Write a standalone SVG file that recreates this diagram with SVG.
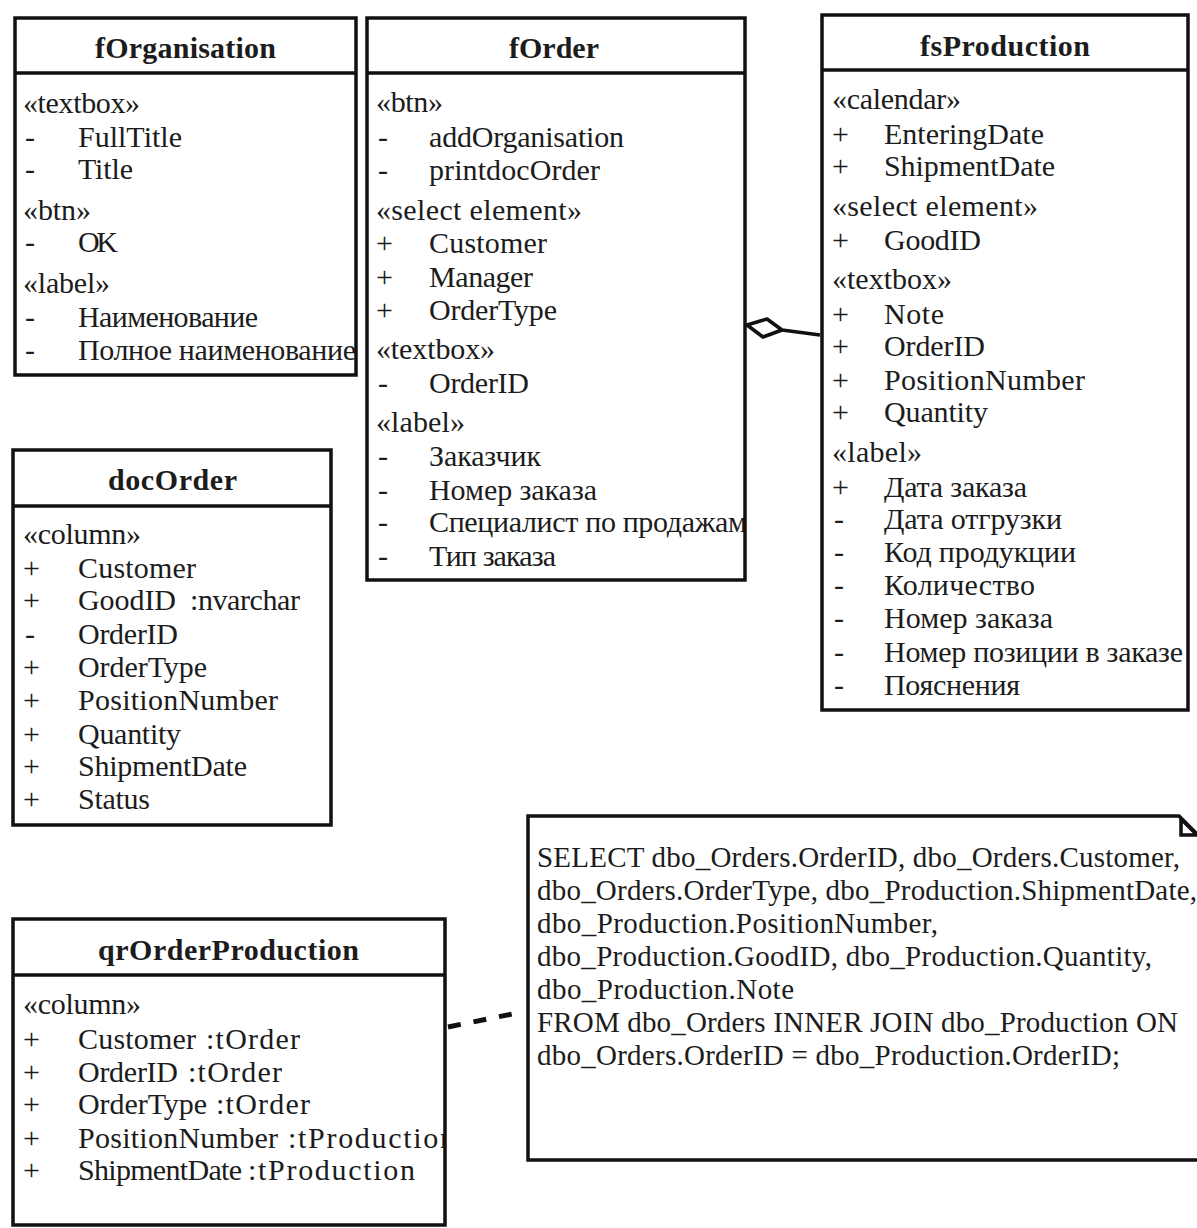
<svg xmlns="http://www.w3.org/2000/svg" width="1197" height="1228" viewBox="0 0 1197 1228">
  <style>
    text { font-family: "Liberation Serif", "Times New Roman", "DejaVu Serif", serif; font-size: 30px; fill: #1c1c1c; }
    .title { font-weight: bold; text-anchor: middle; }
    .note { font-size: 29px; }
    .box { fill: #ffffff; stroke: none; }
    .frame { fill: none; stroke: #111111; stroke-width: 3.5; }
    .sep { stroke: #111111; stroke-width: 3.5; }
    .link { fill: none; stroke: #111111; stroke-width: 3.5; stroke-linejoin: round; }
    .dash { fill: none; stroke: #111111; stroke-width: 5; stroke-dasharray: 13 13; }
  </style>
  <defs>
    <clipPath id="clipOrg"><rect x="15" y="18" width="341" height="357"/></clipPath>
    <clipPath id="clipOrder"><rect x="367" y="18" width="378" height="562"/></clipPath>
    <clipPath id="clipProd"><rect x="822" y="15" width="366" height="695"/></clipPath>
    <clipPath id="clipQr"><rect x="13" y="919" width="432" height="306"/></clipPath>
  </defs>

  <rect width="1197" height="1228" fill="#ffffff"/>

  <!-- fOrganisation -->
  <g id="fOrganisation">
    <rect class="box" x="15" y="18" width="341" height="357"/>
    <text class="title" x="185.5" y="58" textLength="181">fOrganisation</text>
    <g clip-path="url(#clipOrg)">
      <text x="23" y="113" textLength="117">«textbox»</text>
      <text x="25" y="147">-</text><text x="78" y="147" textLength="104">FullTitle</text>
      <text x="25" y="179">-</text><text x="78" y="179" textLength="55">Title</text>
      <text x="23" y="220" textLength="68">«btn»</text>
      <text x="25" y="252">-</text><text x="78" y="252" textLength="40">OK</text>
      <text x="23" y="293" textLength="87">«label»</text>
      <text x="25" y="327">-</text><text x="78" y="327" textLength="180">Наименование</text>
      <text x="25" y="360">-</text><text x="78" y="360" textLength="278">Полное наименование</text>
    </g>
    <rect class="frame" x="15" y="18" width="341" height="357"/>
    <line class="sep" x1="15" y1="73" x2="356" y2="73"/>
  </g>

  <!-- fOrder -->
  <g id="fOrder">
    <rect class="box" x="367" y="18" width="378" height="562"/>
    <text class="title" x="554" y="58" textLength="90">fOrder</text>
    <g clip-path="url(#clipOrder)">
      <text x="376" y="112" textLength="67">«btn»</text>
      <text x="378" y="147">-</text><text x="429" y="147" textLength="195">addOrganisation</text>
      <text x="378" y="180">-</text><text x="429" y="180" textLength="171">printdocOrder</text>
      <text x="376" y="220" textLength="206">«select element»</text>
      <text x="376" y="253">+</text><text x="429" y="253" textLength="118">Customer</text>
      <text x="376" y="287">+</text><text x="429" y="287" textLength="104">Manager</text>
      <text x="376" y="320">+</text><text x="429" y="320" textLength="128">OrderType</text>
      <text x="376" y="359" textLength="119">«textbox»</text>
      <text x="378" y="393">-</text><text x="429" y="393" textLength="100">OrderID</text>
      <text x="376" y="432" textLength="89">«label»</text>
      <text x="378" y="466">-</text><text x="429" y="466" textLength="112">Заказчик</text>
      <text x="378" y="500">-</text><text x="429" y="500" textLength="168">Номер заказа</text>
      <text x="378" y="532">-</text><text x="429" y="532" textLength="318">Специалист по продажам</text>
      <text x="378" y="566">-</text><text x="429" y="566" textLength="127">Тип заказа</text>
    </g>
    <rect class="frame" x="367" y="18" width="378" height="562"/>
    <line class="sep" x1="367" y1="73" x2="745" y2="73"/>
  </g>

  <!-- fsProduction -->
  <g id="fsProduction">
    <rect class="box" x="822" y="15" width="366" height="695"/>
    <text class="title" x="1005" y="56" textLength="170">fsProduction</text>
    <g clip-path="url(#clipProd)">
      <text x="832" y="109" textLength="129">«calendar»</text>
      <text x="832" y="144">+</text><text x="884" y="144" textLength="160">EnteringDate</text>
      <text x="832" y="176">+</text><text x="884" y="176" textLength="171">ShipmentDate</text>
      <text x="832" y="216" textLength="206">«select element»</text>
      <text x="832" y="250">+</text><text x="884" y="250" textLength="97">GoodID</text>
      <text x="832" y="289" textLength="120">«textbox»</text>
      <text x="832" y="324">+</text><text x="884" y="324" textLength="60">Note</text>
      <text x="832" y="356">+</text><text x="884" y="356" textLength="101">OrderID</text>
      <text x="832" y="390">+</text><text x="884" y="390" textLength="201">PositionNumber</text>
      <text x="832" y="422">+</text><text x="884" y="422" textLength="104">Quantity</text>
      <text x="832" y="462" textLength="90">«label»</text>
      <text x="832" y="497">+</text><text x="884" y="497" textLength="143">Дата заказа</text>
      <text x="834" y="529">-</text><text x="884" y="529" textLength="178">Дата отгрузки</text>
      <text x="834" y="562">-</text><text x="884" y="562" textLength="192">Код продукции</text>
      <text x="834" y="595">-</text><text x="884" y="595" textLength="151">Количество</text>
      <text x="834" y="628">-</text><text x="884" y="628" textLength="169">Номер заказа</text>
      <text x="834" y="662">-</text><text x="884" y="662" textLength="299">Номер позиции в заказе</text>
      <text x="834" y="695">-</text><text x="884" y="695" textLength="136">Пояснения</text>
    </g>
    <rect class="frame" x="822" y="15" width="366" height="695"/>
    <line class="sep" x1="822" y1="70" x2="1188" y2="70"/>
  </g>

  <!-- docOrder -->
  <g id="docOrder">
    <rect class="box" x="13" y="450" width="318" height="375"/>
    <text class="title" x="172.5" y="490" textLength="129">docOrder</text>
    <text x="23" y="544" textLength="118">«column»</text>
    <text x="23" y="578">+</text><text x="78" y="578" textLength="118">Customer</text>
    <text x="23" y="610">+</text><text x="78" y="610" textLength="98">GoodID</text><text x="190" y="610" textLength="110">:nvarchar</text>
    <text x="25" y="644">-</text><text x="78" y="644" textLength="100">OrderID</text>
    <text x="23" y="677">+</text><text x="78" y="677" textLength="129">OrderType</text>
    <text x="23" y="710">+</text><text x="78" y="710" textLength="200">PositionNumber</text>
    <text x="23" y="744">+</text><text x="78" y="744" textLength="103">Quantity</text>
    <text x="23" y="776">+</text><text x="78" y="776" textLength="169">ShipmentDate</text>
    <text x="23" y="809">+</text><text x="78" y="809" textLength="72">Status</text>
    <rect class="frame" x="13" y="450" width="318" height="375"/>
    <line class="sep" x1="13" y1="506" x2="331" y2="506"/>
  </g>

  <!-- qrOrderProduction -->
  <g id="qrOrderProduction">
    <rect class="box" x="13" y="919" width="432" height="306"/>
    <text class="title" x="228.5" y="960" textLength="261">qrOrderProduction</text>
    <g clip-path="url(#clipQr)">
      <text x="23" y="1014" textLength="118">«column»</text>
      <text x="23" y="1049">+</text><text x="78" y="1049" textLength="118">Customer</text><text x="206" y="1049" textLength="94">:tOrder</text>
      <text x="23" y="1082">+</text><text x="78" y="1082" textLength="100">OrderID</text><text x="188" y="1082" textLength="94">:tOrder</text>
      <text x="23" y="1114">+</text><text x="78" y="1114" textLength="129">OrderType</text><text x="216" y="1114" textLength="94">:tOrder</text>
      <text x="23" y="1148">+</text><text x="78" y="1148" textLength="200">PositionNumber</text><text x="288" y="1148" textLength="167">:tProduction</text>
      <text x="23" y="1180">+</text><text x="78" y="1180" textLength="164">ShipmentDate</text><text x="248" y="1180" textLength="167">:tProduction</text>
    </g>
    <rect class="frame" x="13" y="919" width="432" height="306"/>
    <line class="sep" x1="13" y1="975" x2="445" y2="975"/>
  </g>

  <!-- SQL note -->
  <g id="sqlNote">
    <path d="M528,816 L1179,816 L1197,834 L1197,1160 L528,1160 Z" fill="#ffffff"/>
    <text class="note" x="537" y="867" textLength="643">SELECT dbo_Orders.OrderID, dbo_Orders.Customer,</text>
    <text class="note" x="537" y="900" textLength="660">dbo_Orders.OrderType, dbo_Production.ShipmentDate,</text>
    <text class="note" x="537" y="933" textLength="401">dbo_Production.PositionNumber,</text>
    <text class="note" x="537" y="966" textLength="615">dbo_Production.GoodID, dbo_Production.Quantity,</text>
    <text class="note" x="537" y="999" textLength="257">dbo_Production.Note</text>
    <text class="note" x="537" y="1032" textLength="641">FROM dbo_Orders INNER JOIN dbo_Production ON</text>
    <text class="note" x="537" y="1065" textLength="583">dbo_Orders.OrderID = dbo_Production.OrderID;</text>
    <path class="frame" d="M1197,1160 L528,1160 L528,816 L1179,816 L1197,834"/>
    <path d="M1181,819 L1181,835 L1197,835 Z" fill="none" stroke="#111111" stroke-width="3.5" stroke-linejoin="miter"/>
  </g>

  <!-- connectors -->
  <g id="connectors">
    <path class="link" d="M747,325 L767,319 L782,330 L763,337 Z M782,330 L820,335"/>
    <line class="dash" x1="448" y1="1027" x2="522" y2="1012"/>
  </g>
</svg>
